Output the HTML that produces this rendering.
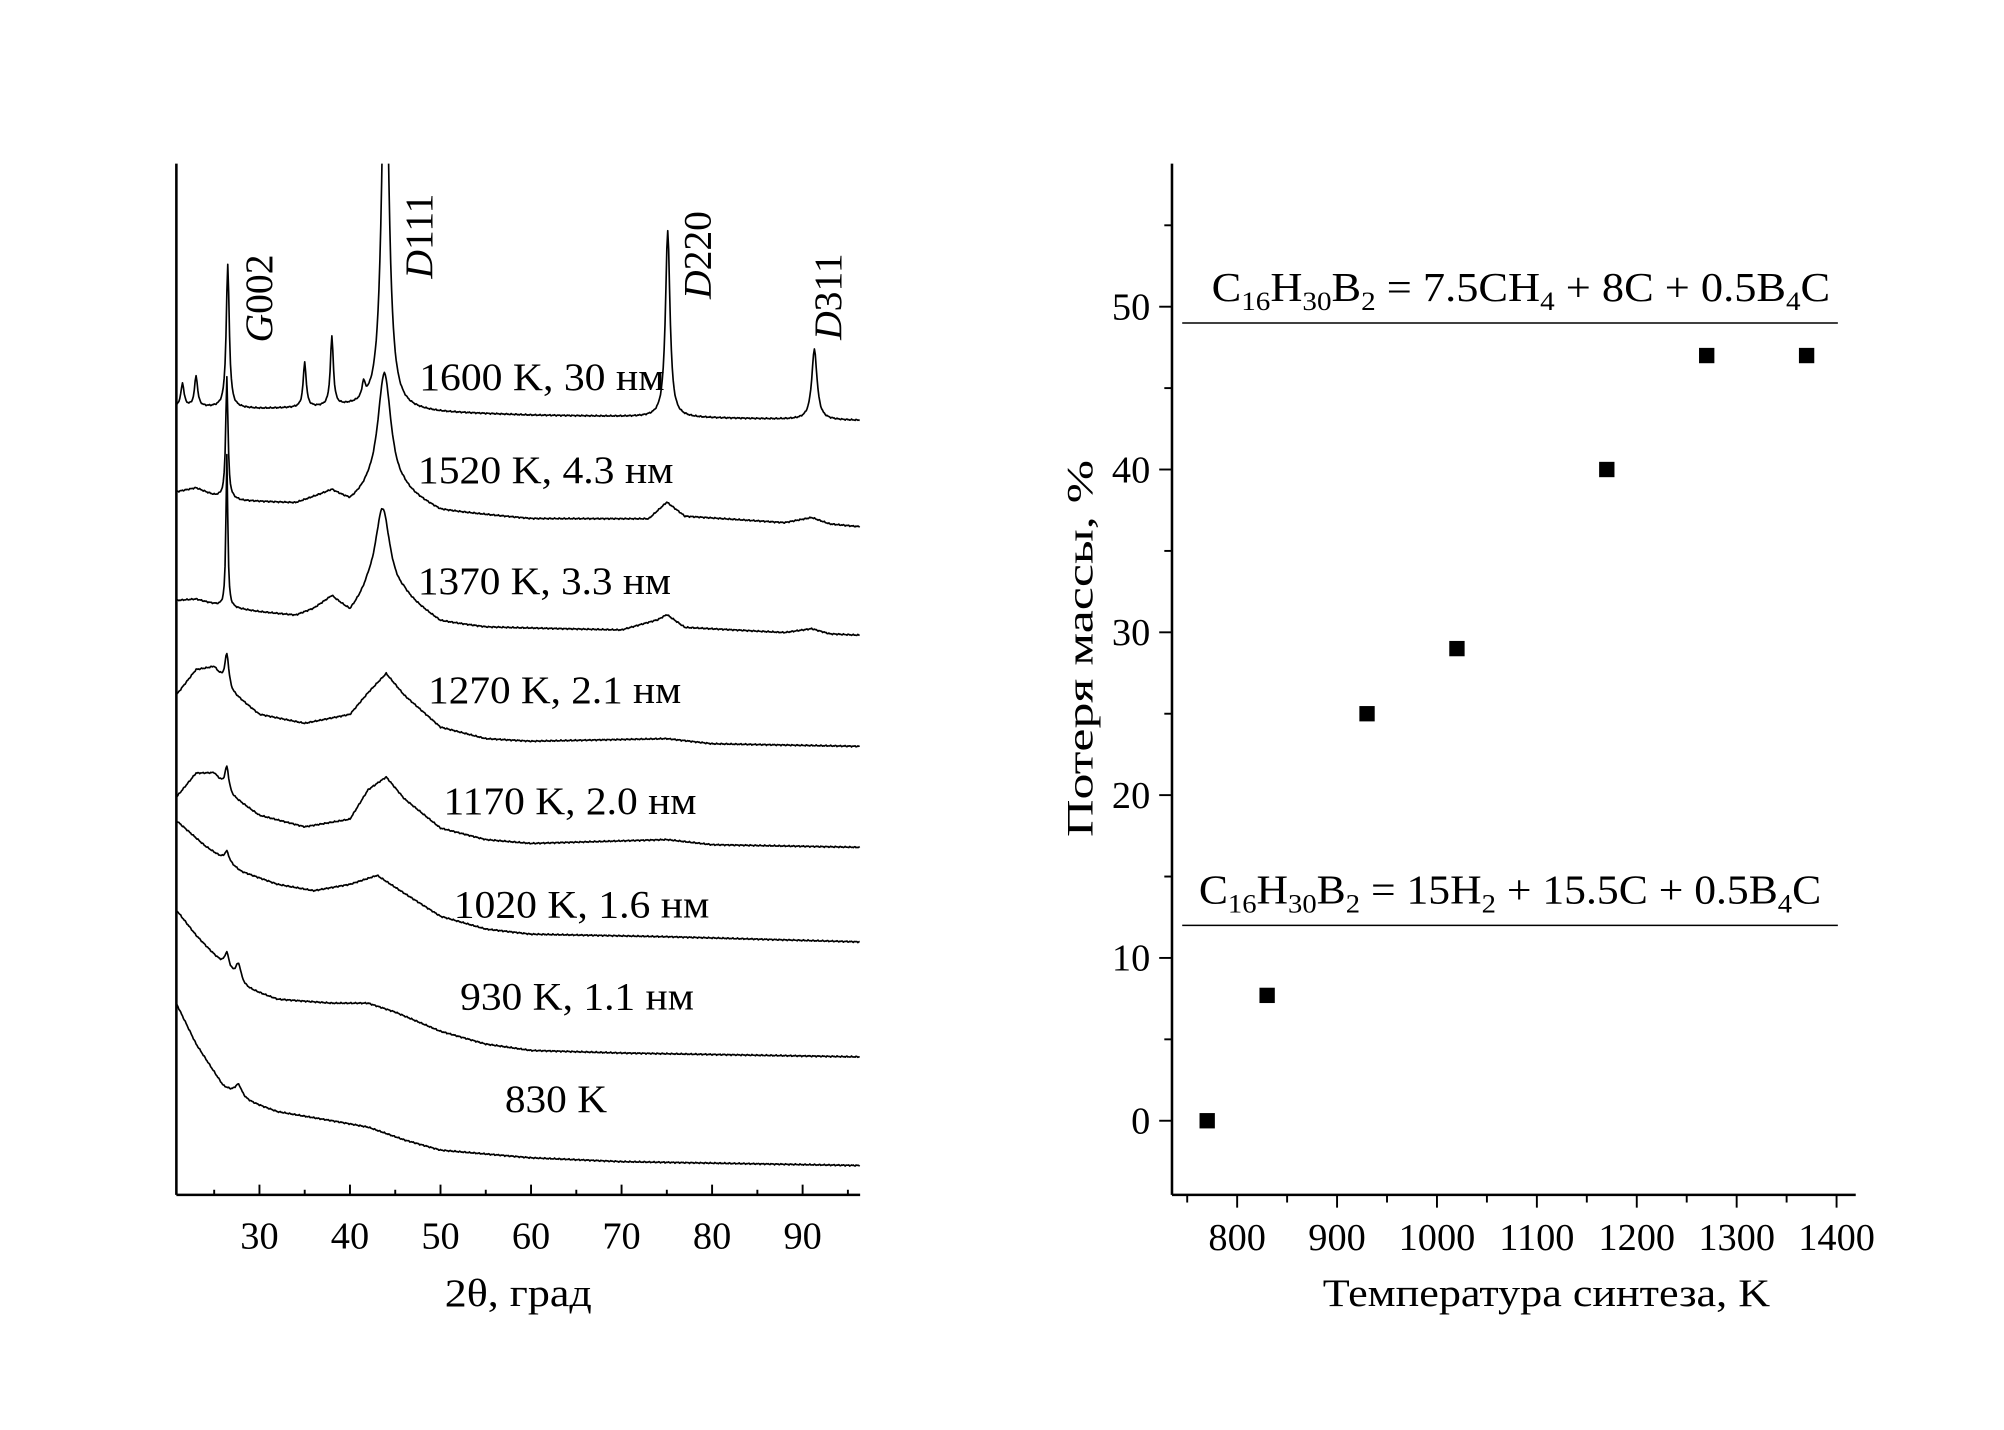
<!DOCTYPE html>
<html><head><meta charset="utf-8"><style>
html,body{margin:0;padding:0;background:#fff}
svg{display:block}
text{font-family:"Liberation Serif",serif;fill:#000}
</style></head><body>
<svg id="fig" width="2004" height="1430" viewBox="0 0 1568 1119" preserveAspectRatio="none" xmlns="http://www.w3.org/2000/svg">
<rect width="1568" height="1119" fill="#fff"/>
<defs><clipPath id="lc"><rect x="138" y="128" width="540" height="808"/></clipPath></defs>
<g id="left"></g>
<g id="right"></g>
</svg>
<script>
// ---------- Left chart data ----------
const xrdLabels = ["1600 K, 30 нм","1520 K, 4.3 нм","1370 K, 3.3 нм","1270 K, 2.1 нм","1170 K, 2.0 нм","1020 K, 1.6 нм","930 K, 1.1 нм","830 K"];
const xrdBaselines = [329,412,497,584,663,737,827,912];
const xrdBackgrounds = [
 [[20.8,11],[30,9],[40,10],[50,6],[60,4],[70,3],[96,0]],
 [[20.8,27],[23,30],[25,24],[28,20],[34,18],[38,27],[40,18],[42,25],[46,25],[50,12],[60,6],[73,6],[75,19],[77,8],[88,3],[91,7],[93,2],[96,0]],
 [[20.8,27],[23,28],[26,22],[30,18],[34,15],[36,20],[38,29],[40,16],[42,30],[46,28],[50,10],[55,6],[70,4],[74,12],[75,16],[77,6],[88,2],[91,5],[93,1],[96,0]],
 [[20.8,40],[23,60],[25,62],[27,42],[30,25],[35,18],[40,25],[42,42],[44,57],[46,40],[50,15],[55,6],[60,4],[75,6],[80,2],[96,0]],
 [[20.8,39],[23,58],[25,58],[27,40],[30,25],[35,16],[40,22],[42,45],[44,55],[46,38],[50,15],[55,6],[60,3],[75,6],[80,2],[96,0]],
 [[20.8,95],[24,75],[28,55],[32,45],[36,40],[40,45],[43,52],[46,38],[50,20],[55,10],[60,6],[75,4],[96,0]],
 [[20.8,115],[23,95],[26,72],[28,55],[32,45],[38,42],[42,42],[45,35],[50,20],[55,10],[60,5],[70,3],[96,0]],
 [[20.8,127],[23,95],[26,62],[28,52],[32,42],[38,35],[42,30],[46,20],[50,12],[60,6],[70,3],[96,0]]
];
// peaks: [centre 2θ, height(px), half width]
const xrdPeaks = [
 [[21.5,18,0.2],[23,24,0.2],[26.5,112,0.2],[35,35,0.2],[38,54,0.2],[41.5,12,0.2],[43.9,320,0.45],[75.1,146,0.3],[91.3,55,0.35]],
 [[26.4,95,0.15],[43.8,95,0.9]],
 [[26.4,120,0.12],[43.6,70,1.0]],
 [[26.4,25,0.25]],
 [[26.4,18,0.25]],
 [[26.4,8,0.3]],
 [[26.4,12,0.3],[27.7,15,0.4]],
 [[27.7,10,0.5]]
];
const xTicksLeft = [30,40,50,60,70,80,90];
// ---------- Right chart data ----------
const synthTemps = [770,830,930,1020,1170,1270,1370];
const massLoss = [0,7.7,25,29,40,47,47];
const yTicksRight = [0,10,20,30,40,50];
const xTicksRight = [800,900,1000,1100,1200,1300,1400];
const refLevels = [49,12];

const NS="http://www.w3.org/2000/svg";
function mk(p,t,a,txt){const e=document.createElementNS(NS,t);for(const k in a)e.setAttribute(k,a[k]);if(txt!==undefined)e.textContent=txt;p.appendChild(e);return e;}
const L=document.getElementById('left'), R=document.getElementById('right');
const lx=v=>203+(v-30)*(425/60);
function bgAt(pts,x){for(let i=0;i<pts.length-1;i++){if(x>=pts[i][0]&&x<=pts[i+1][0]){const t=(x-pts[i][0])/(pts[i+1][0]-pts[i][0]);return pts[i][1]+t*(pts[i+1][1]-pts[i][1]);}}return pts[pts.length-1][1];}
const cg=mk(L,'g',{'clip-path':'url(#lc)'});
for(let s=0;s<xrdLabels.length;s++){
 let d='';
 for(let x=20.8;x<=96.3;x+=0.1){
  let h=bgAt(xrdBackgrounds[s],x);
  for(const p of xrdPeaks[s]){const u=(x-p[0])/p[2];h+=p[1]/(1+u*u);}
  h+=0.6*Math.sin(x*37.1+s)*Math.cos(x*13.7);
  d+=(d?'L':'M')+lx(x).toFixed(2)+','+(xrdBaselines[s]-h).toFixed(2);
 }
 const path=mk(cg,'path',{d:d,fill:'none',stroke:'#000','stroke-width':1.3,'stroke-linejoin':'round'});
 
 
}
const labPos=[[328,305,192],[327,378,200],[327,465,198],[335,550,198],[347,637,198],[355,718,200],[360,790,183],[395,870,80]];
xrdLabels.forEach((t,i)=>{const e=mk(L,'text',{x:labPos[i][0],y:labPos[i][1],'font-size':31,textLength:labPos[i][2],lengthAdjust:'spacingAndGlyphs'},t);
 
 });
[['G','002',213,268],['D','111',338,218],['D','220',556,234],['D','311',658,266]].forEach(a=>{
 const e=mk(L,'text',{transform:`translate(${a[2]},${a[3]}) rotate(-90)`,'font-size':31});
 mk(e,'tspan',{'font-style':'italic'},a[0]);mk(e,'tspan',{},a[1]);
 
 });
mk(L,'line',{x1:138,y1:128,x2:138,y2:935,stroke:'#000','stroke-width':2});
mk(L,'line',{x1:138,y1:935,x2:673,y2:935,stroke:'#000','stroke-width':2});
for(let v=25;v<=95;v+=5){const x=lx(v);mk(L,'line',{x1:x,y1:935,x2:x,y2:v%10==0?927:931,stroke:'#000','stroke-width':1.5});}
xTicksLeft.forEach(v=>{const e=mk(L,'text',{x:lx(v),y:977,'font-size':30,'text-anchor':'middle'},v);
 
 });
const xt=mk(L,'text',{x:348,y:1022,'font-size':31,textLength:115,lengthAdjust:'spacingAndGlyphs'},'2θ, град');


// right
const rx=v=>968+(v-800)*(469/600), ry=v=>877-v*(637/50);
mk(R,'line',{x1:917,y1:128,x2:917,y2:935,stroke:'#000','stroke-width':2});
mk(R,'line',{x1:917,y1:935,x2:1452,y2:935,stroke:'#000','stroke-width':2});
for(let v=0;v<=55;v+=5){mk(R,'line',{x1:917,y1:ry(v),x2:v%10==0?907:911,y2:ry(v),stroke:'#000','stroke-width':1.5});}
for(let v=750;v<=1400;v+=50){mk(R,'line',{x1:rx(v),y1:935,x2:rx(v),y2:v%100==0?945:941,stroke:'#000','stroke-width':1.5});}
yTicksRight.forEach(v=>{const e=mk(R,'text',{x:900,y:ry(v)+10,'font-size':30,'text-anchor':'end'},v);
 
 });
xTicksRight.forEach(v=>{const e=mk(R,'text',{x:rx(v),y:978,'font-size':30,'text-anchor':'middle'},v);
 
 });
const rxt=mk(R,'text',{x:1035,y:1022,'font-size':31,textLength:350,lengthAdjust:'spacingAndGlyphs'},'Температура синтеза, K');


const ryt=mk(R,'text',{transform:'translate(855,655) rotate(-90)','font-size':29,textLength:295,lengthAdjust:'spacingAndGlyphs'},'Потеря массы, %');


refLevels.forEach((v,i)=>{const e=mk(R,'line',{x1:925,y1:ry(v),x2:1438,y2:ry(v),stroke:'#000','stroke-width':1.2});
 
 });
function eq(x,y,parts,len){const t=mk(R,'text',{x:x,y:y,'font-size':32});parts.forEach(p=>{if(p[1])mk(t,'tspan',{'font-size':21,dy:7},p[0]);else if(p[2])mk(t,'tspan',{dy:-7},p[0]);else mk(t,'tspan',{},p[0]);});t.setAttribute('textLength',len);t.setAttribute('lengthAdjust','spacingAndGlyphs');return t;}
const e1=eq(948,ry(refLevels[0])-17,[['C'],['16',1],['H',0,1],['30',1],['B',0,1],['2',1],[' = 7.5CH',0,1],['4',1],[' + 8C + 0.5B',0,1],['4',1],['C',0,1]],484);


const e2=eq(938,ry(refLevels[1])-17,[['C'],['16',1],['H',0,1],['30',1],['B',0,1],['2',1],[' = 15H',0,1],['2',1],[' + 15.5C + 0.5B',0,1],['4',1],['C',0,1]],487);


synthTemps.forEach((t,i)=>{const e=mk(R,'rect',{x:rx(t)-6,y:ry(massLoss[i])-6,width:12,height:12,fill:'#000'});
 
 });
</script>
</body></html>
